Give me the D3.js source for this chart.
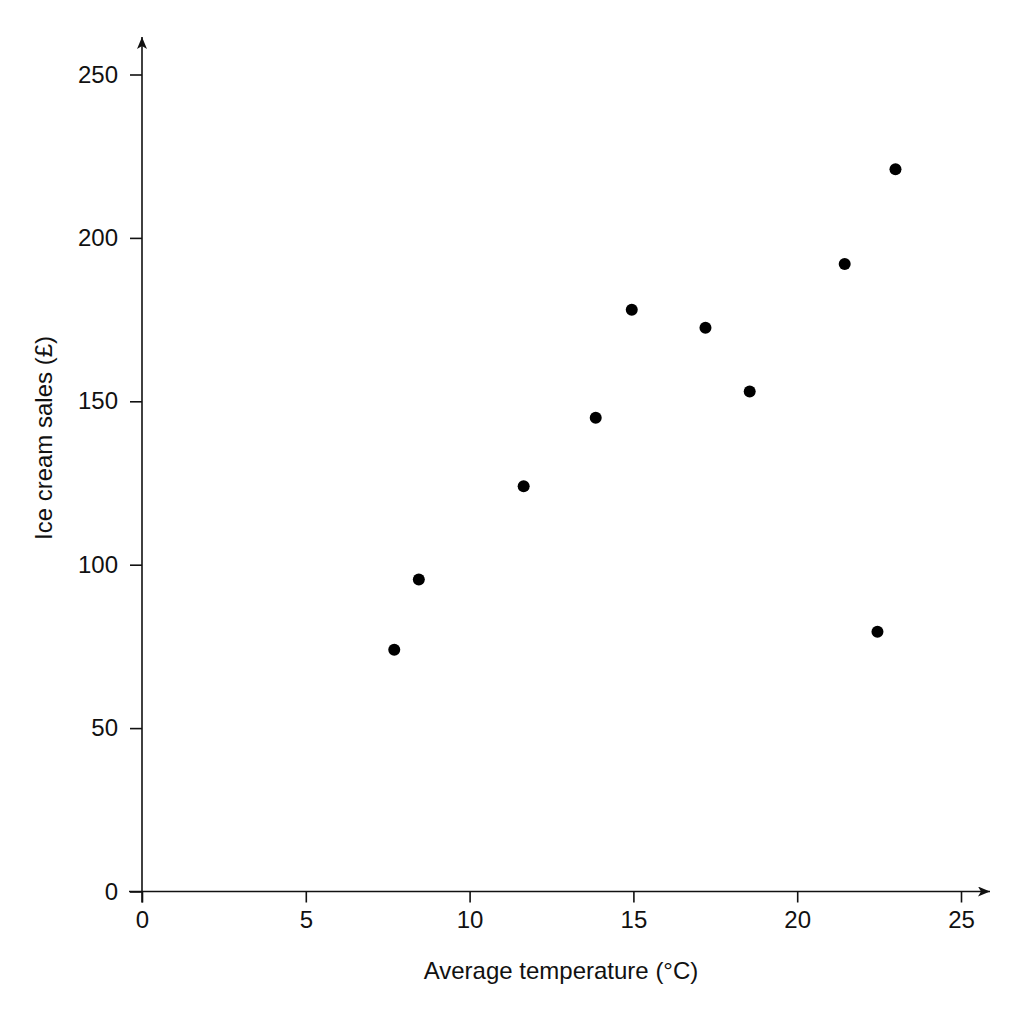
<!DOCTYPE html>
<html>
<head>
<meta charset="utf-8">
<script src="https://cdn.jsdelivr.net/npm/d3@7"></script>
<style>
  body { margin: 0; background: #fff; }
  text { font-family: "Liberation Sans", Arial, sans-serif; fill: #111; }
</style>
</head>
<body>
<svg id="chart" width="1024" height="1024"></svg>
<script>
// data
var temps = [7.7, 8.45, 11.65, 13.85, 14.95, 17.2, 18.55, 21.45, 22.45, 23.0];
var sales = [74, 95.5, 124, 145, 178, 172.5, 153, 192, 79.5, 221];
var xTicks = [0, 5, 10, 15, 20, 25];
var yTicks = [0, 50, 100, 150, 200, 250];
var xLabel = "Average temperature (°C)";
var yLabel = "Ice cream sales (£)";

var svg = d3.select("#chart");
var x = d3.scaleLinear().domain([0, 25]).range([142, 961]);
var y = d3.scaleLinear().domain([0, 250]).range([891.5, 74.5]);

// arrow heads
var defs = svg.append("defs");
defs.append("marker")
    .attr("id", "arrow").attr("viewBox", "0 0 12 10")
    .attr("refX", 12).attr("refY", 5)
    .attr("markerWidth", 12).attr("markerHeight", 10)
    .attr("markerUnits", "userSpaceOnUse").attr("orient", "auto")
    .append("path").attr("d", "M0,0 L12,5 L0,10 L3,5 Z").attr("fill", "#111");

// x axis
var xAxis = svg.append("g").attr("transform", "translate(0," + y(0) + ")")
    .call(d3.axisBottom(x).tickValues(xTicks).tickSize(11).tickPadding(8).tickFormat(d3.format("d")));
xAxis.select(".domain").remove();
xAxis.selectAll("line").attr("stroke", "#111").attr("stroke-width", 1.6);
xAxis.selectAll("text").style("font-size", "24px").attr("fill", "#111");
xAxis.append("line").attr("x1", x(0) - 13).attr("x2", 990).attr("y1", 0).attr("y2", 0)
    .attr("stroke", "#111").attr("stroke-width", 1.6).attr("marker-end", "url(#arrow)");

// y axis
var yAxis = svg.append("g").attr("transform", "translate(" + x(0) + ",0)")
    .call(d3.axisLeft(y).tickValues(yTicks).tickSize(12).tickPadding(12).tickFormat(d3.format("d")));
yAxis.select(".domain").remove();
yAxis.selectAll("line").attr("stroke", "#111").attr("stroke-width", 1.6);
yAxis.selectAll("text").style("font-size", "24px").attr("fill", "#111");
yAxis.append("line").attr("x1", 0).attr("x2", 0).attr("y1", y(0) + 11).attr("y2", 37)
    .attr("stroke", "#111").attr("stroke-width", 1.6).attr("marker-end", "url(#arrow)");

// axis titles
svg.append("text").attr("x", 561).attr("y", 979).attr("text-anchor", "middle")
    .style("font-size", "24px").text(xLabel);
svg.append("text").attr("transform", "translate(52,438) rotate(-90)").attr("text-anchor", "middle")
    .style("font-size", "24px").text(yLabel);

// points
svg.append("g").selectAll("circle").data(temps).enter().append("circle")
    .attr("cx", function(d) { return x(d); })
    .attr("cy", function(d, i) { return y(sales[i]); })
    .attr("r", 6).attr("fill", "#000");
</script>
</body>
</html>
